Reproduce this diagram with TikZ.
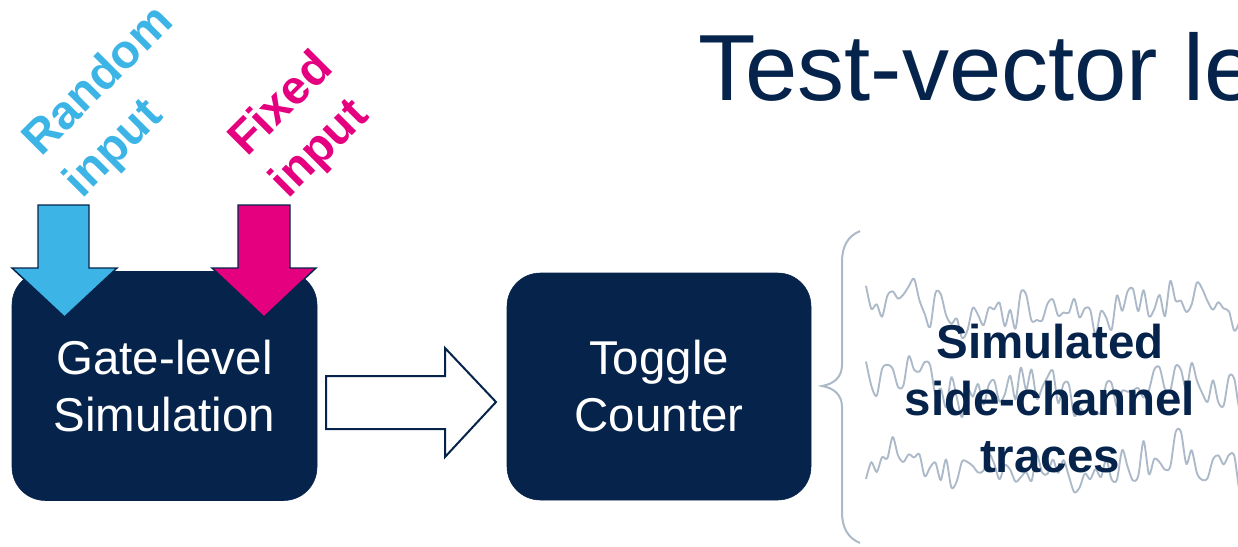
\documentclass[tikz,border=0pt]{standalone}
\usepackage{fontspec}
\setmainfont{Liberation Sans}
\definecolor{navy}{RGB}{5,35,75}
\definecolor{skyblue}{RGB}{61,180,230}
\definecolor{magenta}{RGB}{228,0,126}
\definecolor{tracegray}{RGB}{172,185,200}
\begin{document}
\begin{tikzpicture}[x=0.75pt,y=-0.75pt,
  block/.style={fill=navy, draw=navy, rounded corners=25pt, text=white,
    align=center, inner sep=0pt,
    font=\fontsize{35.6pt}{42.75pt}\selectfont},
  inlabel/.style={rotate=45, anchor=west, align=left, inner sep=0pt,
    font=\fontsize{35.5pt}{44pt}\selectfont\bfseries},
  inarrow/.style={draw=navy, line width=1.1pt, line join=miter},
  flowarrow/.style={draw=navy, fill=white, line width=1.5pt, line join=miter},
  trace/.style={draw=tracegray, line width=1.4pt, line join=round},
  brace/.style={draw=tracegray, line width=1.5pt}]
\useasboundingbox (0,0) rectangle (1238,546);
\clip (0,0) rectangle (1238,546);

% title, running off the right edge
\node[anchor=base west, inner sep=0pt, text=navy,
      font=\fontsize{70.5pt}{80pt}\selectfont] (title) at (698,100) {Test-vector le};

% processing blocks
\node[block, minimum width=228.75pt, minimum height=171.75pt] (gls) at (164.5,386) {Gate-level\\Simulation};
\node[block, minimum width=228pt, minimum height=170.25pt] (tc) at (659,386.5) {Toggle\\Counter};

% input labels
\node[inlabel, text=skyblue] (rnd) at (53,170) {Random\\input};
\node[inlabel, text=magenta] (fix) at (259,170) {Fixed\\input};

% input block arrows into the simulation
\path[inarrow, fill=skyblue] (38,205) -- (89,205) -- (89,268) -- (117,268) -- (64.5,317) -- (12,268) -- (38,268) -- cycle;
\path[inarrow, fill=magenta] (238,205) -- (290,205) -- (290,268) -- (316,268) -- (264,317) -- (212,268) -- (238,268) -- cycle;

% hollow block arrow from simulation to toggle counter
\path[flowarrow] (326,376) -- (445,376) -- (445,348) -- (496,402) -- (445,457) -- (445,429) -- (326,429) -- cycle;

% curly brace
\path[brace] (860,231) .. controls (848,236) and (842,246) .. (842,262)
  -- (842,365) .. controls (842,377) and (834,384) .. (822,386)
  .. controls (834,388) and (842,395) .. (842,407)
  -- (842,512) .. controls (842,528) and (848,538) .. (860,543);

% noisy traces
\pgfmathsetseed{4711}
\foreach \c in {310,388,465}{
  \draw[trace] plot[smooth, tension=0.5, domain=866:1245, samples=72, variable=\t]
    (\t, {\c + 9*sin(2.7*\t) + 6*sin(1.1*\t+40) + 21*rand});
}

% caption over the traces
\node[align=center, inner sep=0pt, text=navy,
      font=\fontsize{35.6pt}{42.75pt}\selectfont\bfseries] (sct) at (1050,398.5)
  {Simulated\\side-channel\\traces};
\end{tikzpicture}
\end{document}
